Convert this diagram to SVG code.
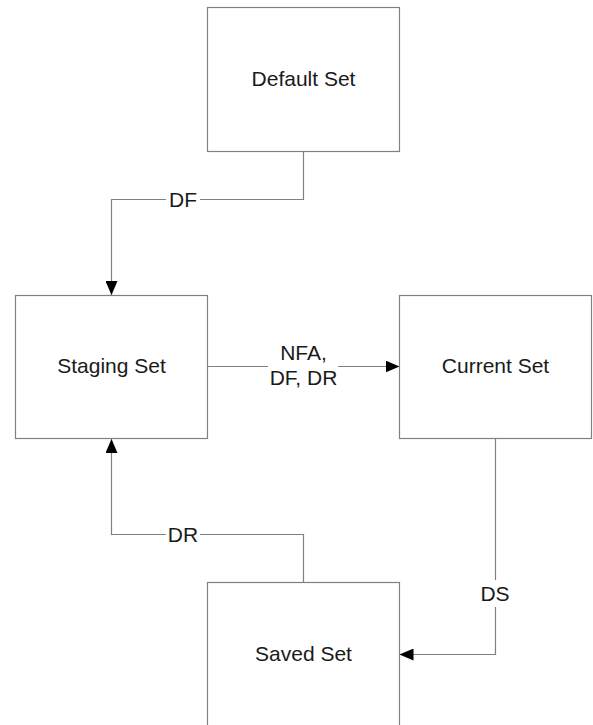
<svg xmlns="http://www.w3.org/2000/svg" width="593" height="725" viewBox="0 0 593 725">
<style>
.box{fill:#fff;stroke:#808080;stroke-width:1.2}
.lbl{font-family:"Liberation Sans",Arial,sans-serif;font-size:21px;fill:#1a1a1a;text-anchor:middle}
.ln{fill:none;stroke:#808080;stroke-width:1.2}
.bg{fill:#fff}
</style>
<defs>
<marker id="ah" viewBox="0 0 14 12" refX="14" refY="6" markerWidth="14" markerHeight="12" markerUnits="userSpaceOnUse" orient="auto">
<path d="M0,0 L14,6 L0,12 Z" fill="#000"/>
</marker>
</defs>
<rect width="593" height="725" fill="#fff"/>
<g id="connectors">
<path class="ln" d="M303.5,151.5 V199.5 H111.5 V295" marker-end="url(#ah)"/>
<rect class="bg" x="166" y="188" width="34" height="24"/>
<text class="lbl" x="183" y="207">DF</text>
<path class="ln" d="M207.5,366.5 H399.5" marker-end="url(#ah)"/>
<rect class="bg" x="268" y="340" width="70" height="50"/>
<text class="lbl" x="303.5" y="360">NFA,</text>
<text class="lbl" x="303.5" y="385">DF, DR</text>
<path class="ln" d="M495.5,438.5 V654.5 H399.5" marker-end="url(#ah)"/>
<rect class="bg" x="478" y="580" width="34" height="27"/>
<text class="lbl" x="495" y="601">DS</text>
<path class="ln" d="M303.5,582.5 V534.5 H111.5 V439" marker-end="url(#ah)"/>
<rect class="bg" x="166" y="523" width="34" height="24"/>
<text class="lbl" x="183" y="542">DR</text>
</g>
<g id="default-set">
<rect class="box" x="207.5" y="7.5" width="192" height="144"/>
<text class="lbl" x="303.5" y="86">Default Set</text>
</g>
<g id="staging-set">
<rect class="box" x="15.5" y="295.5" width="192" height="143"/>
<text class="lbl" x="111.5" y="373">Staging Set</text>
</g>
<g id="current-set">
<rect class="box" x="399.5" y="295.5" width="192" height="143"/>
<text class="lbl" x="495.5" y="373">Current Set</text>
</g>
<g id="saved-set">
<rect class="box" x="207.5" y="582.5" width="192" height="160"/>
<text class="lbl" x="303.5" y="661">Saved Set</text>
</g>
</svg>
